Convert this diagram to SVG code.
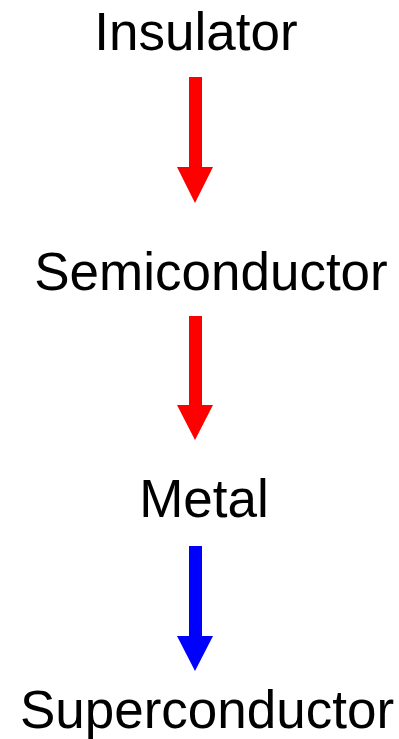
<svg xmlns="http://www.w3.org/2000/svg" width="399" height="739" viewBox="0 0 399 739">
<style>
.t{font-family:"Liberation Sans",Arial,sans-serif;font-size:53px;fill:#000;text-anchor:middle}
.red{fill:#ff0000}
.blue{fill:#0000ff}
</style>
<rect width="399" height="739" fill="#fff"/>
<g id="insulator"><text class="t" x="196" y="50">Insulator</text></g>
<g id="semiconductor"><text class="t" x="211" y="290">Semiconductor</text></g>
<g id="metal"><text class="t" x="204" y="517">Metal</text></g>
<g id="superconductor"><text class="t" x="207" y="728">Superconductor</text></g>
<g id="connectors">
<polygon class="red" points="189,77 202,77 202,167 213,167 195,203 177,167 189,167"/>
<polygon class="red" points="189,316 202,316 202,405 213,405 195,440 177,405 189,405"/>
<polygon class="blue" points="189,546 202,546 202,636 213,636 195,671 177,636 189,636"/>
</g>
</svg>
